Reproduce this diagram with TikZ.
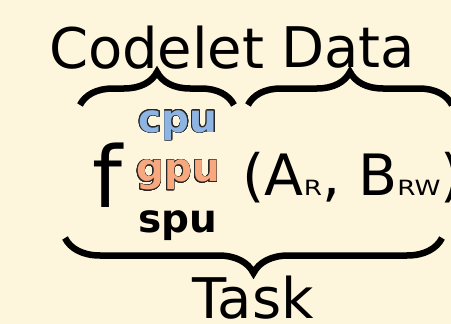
\documentclass[tikz,border=0pt]{standalone}
\usepackage{fontspec}
\setmainfont{DejaVu Sans}
\usepackage{contour}
\usetikzlibrary{decorations.pathreplacing}
\definecolor{paper}{RGB}{253,245,220}
\definecolor{cpufill}{RGB}{141,180,226}
\definecolor{gpufill}{RGB}{247,168,126}
\contourlength{0.7pt}
\contournumber{24}
\newcommand{\labsize}{\fontsize{56}{60}\selectfont}
\newcommand{\subsz}[1]{\scalebox{1.25}[1]{\fontsize{21}{22}\selectfont #1}}
\tikzset{
  word/.style={inner sep=0pt, outer sep=0pt, anchor=base west, font=\labsize},
  unit/.style={inner sep=0pt, outer sep=0pt, anchor=base,
               font=\fontsize{39}{42}\selectfont\bfseries},
  bigbrace/.style={decorate, line width=6.5pt,
                   decoration={brace, amplitude=#1}},
}
\begin{document}
\begin{tikzpicture}[x=1pt, y=-1pt]
  \fill[paper] (0,0) rectangle (451,324);
  \useasboundingbox (0,0) rectangle (451,324);

  % labels
  \node[word] (codelet) at (49,68) {Codelet};
  \node[word] (data) at (281.5,67) {Data};
  \node[word] (task) at (193,318) {Task};

  % braces
  \coordinate (clL) at (80,105);
  \coordinate (clR) at (234,105);
  \coordinate (daL) at (248,105);
  \coordinate (daR) at (452,105);
  \coordinate (tkR) at (442,238);
  \coordinate (tkL) at (65,238);
  \draw[bigbrace=33pt] (clL) -- (clR);
  \draw[bigbrace=33pt] (daL) -- (daR);
  \draw[bigbrace=35pt] (tkR) -- (tkL);

  % function name and its variants
  \node[inner sep=0pt, anchor=base west, font=\fontsize{85}{90}\selectfont]
    (fn) at (92,207) {f};
  \node[unit] (cpu) at (178,132) {\contour{black!85}{\textcolor{cpufill}{cpu}}};
  \node[unit] (gpu) at (178,182) {\contour{black!85}{\textcolor{gpufill}{gpu}}};
  \node[unit] (spu) at (178,232) {spu};

  % data arguments with access modes
  \node[inner sep=0pt, anchor=base west, font=\fontsize{57}{60}\selectfont]
    (args) at (242.4,195) {(A\subsz{R}, B\subsz{RW})};
\end{tikzpicture}
\end{document}
